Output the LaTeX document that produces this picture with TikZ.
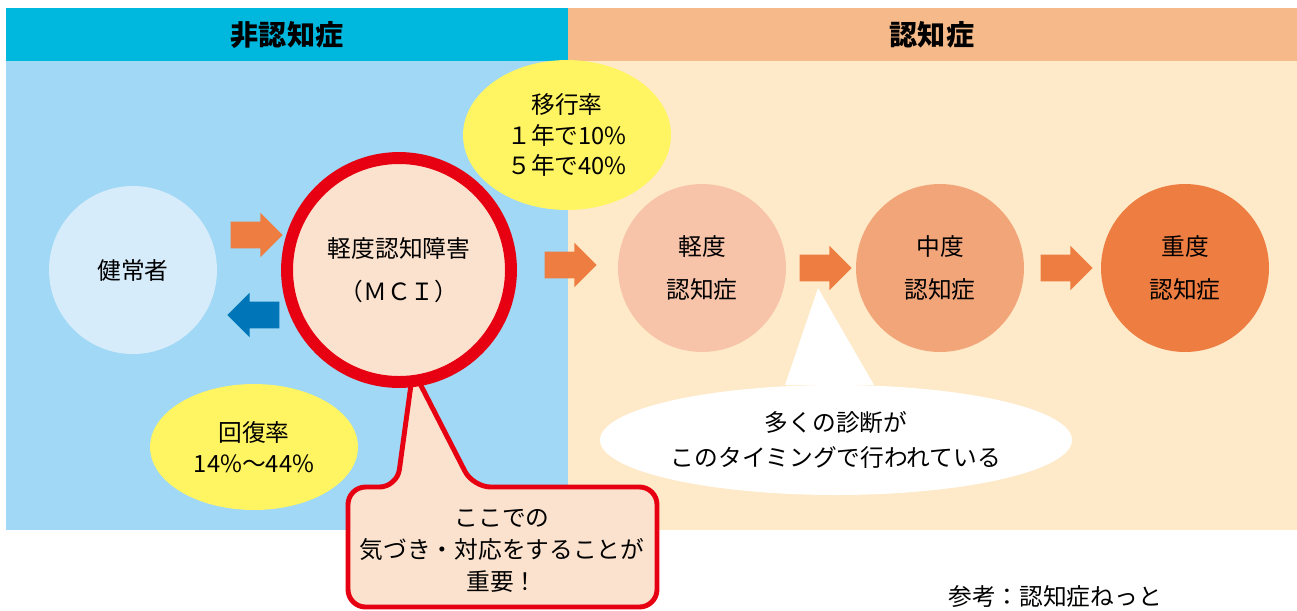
\documentclass[tikz,border=0pt]{standalone}
\usepackage{fontspec}
\setmainfont{Noto Sans CJK JP}
\usetikzlibrary{shapes.geometric,shapes.arrows,positioning,calc}
\definecolor{headblue}{HTML}{00B7DE}
\definecolor{headpeach}{HTML}{F6BA8A}
\definecolor{bgblue}{HTML}{A0D8F5}
\definecolor{bgcream}{HTML}{FEEAC8}
\definecolor{healthy}{HTML}{D7ECFA}
\definecolor{mcifill}{HTML}{FBE2CE}
\definecolor{mcired}{HTML}{E60012}
\definecolor{balloon}{HTML}{FFF462}
\definecolor{mildfill}{HTML}{F7C4AA}
\definecolor{modfill}{HTML}{F3A57A}
\definecolor{sevfill}{HTML}{ED7D41}
\definecolor{arroworange}{HTML}{ED7D41}
\definecolor{arrowblue}{HTML}{0075B8}
\tikzset{every node/.style={ % Text of every label
            align=center,
            font=\fontsize{13.5}{17.5}\selectfont},
        stage/.style={ % The round stages
            circle,
            inner sep=0pt,
            minimum size=3.36cm,
            font=\fontsize{13.5}{24.5}\selectfont},
        balloonnote/.style={ % Yellow notes
            ellipse,
            fill=balloon,
            inner sep=0pt},
        blockarrow/.style={ % Thick block arrows between stages
            single arrow,
            inner xsep=0pt,
            inner ysep=0.26cm,
            minimum height=1.04cm,
            minimum width=0.88cm,
            single arrow head extend=0.18cm,
            fill=arroworange}
        }

\begin{document}
\begin{tikzpicture}[x=0.02cm, y=-0.02cm]
    \useasboundingbox (0,0) rectangle (1297,610);
    % backgrounds
    \fill[headblue] (6,8) rectangle (568,61);
    \fill[headpeach] (568,8) rectangle (1297,61);
    \fill[bgblue] (6,61) rectangle (568,530);
    \fill[bgcream] (568,61) rectangle (1297,530);
    \node[font=\bfseries\fontsize{16}{18}\selectfont] (left) at (287,35) {非認知症};
    \node[font=\bfseries\fontsize{16}{18}\selectfont] (right) at (932,35) {認知症};

    % callout below the MCI circle
    \draw[mcired, line width=2.8pt, fill=mcifill, rounded corners=10]
        (397,487) -- (413,370) -- (473,487) -- (657,487) -- (657,607) -- (348,607) -- (348,487) -- cycle;
    \node[font=\fontsize{13.5}{18}\selectfont] (callout) at (502,551) {ここでの\\気づき・対応をすることが\\重要！};

    \node[stage, fill=healthy] (h) at (133,270) {健常者};
    \node[stage, fill=mcifill, draw=mcired, line width=6.8pt, minimum size=4.48cm] (mci) at (399,270) {軽度認知障害\\（ＭＣＩ）};
    \node[stage, fill=mildfill] (mild) at (702,268) {軽度\\認知症};
    \node[stage, fill=modfill] (mod) at (940,268) {中度\\認知症};
    \node[stage, fill=sevfill] (sev) at (1185,268) {重度\\認知症};

    \node[balloonnote, minimum width=4.16cm, minimum height=3.0cm] (trans) at (567,135) {移行率\\１年で10\%\\５年で40\%};
    \node[balloonnote, minimum width=4.16cm, minimum height=2.52cm] (recov) at (254,447) {回復率\\14\%～44\%};

    % white speech bubble
    \fill[white] (785,385) -- (818,288) -- (874,385) -- cycle;
    \node[ellipse, fill=white, minimum width=9.44cm, minimum height=2.2cm, inner sep=0pt,
          font=\fontsize{13.5}{20}\selectfont] (diag) at (836,440) {多くの診断が\\このタイミングで行われている};

    \node[blockarrow] (a1) at (250,235) {};
    \node[blockarrow, fill=arrowblue, shape border rotate=180] (a2) at (260,315) {};
    \node[blockarrow] (a3) at (564,265) {};
    \node[blockarrow] (a4) at (819,268) {};
    \node[blockarrow] (a5) at (1060,268) {};

    \node (src) at (1055,597) {参考：認知症ねっと};
\end{tikzpicture}
\end{document}
